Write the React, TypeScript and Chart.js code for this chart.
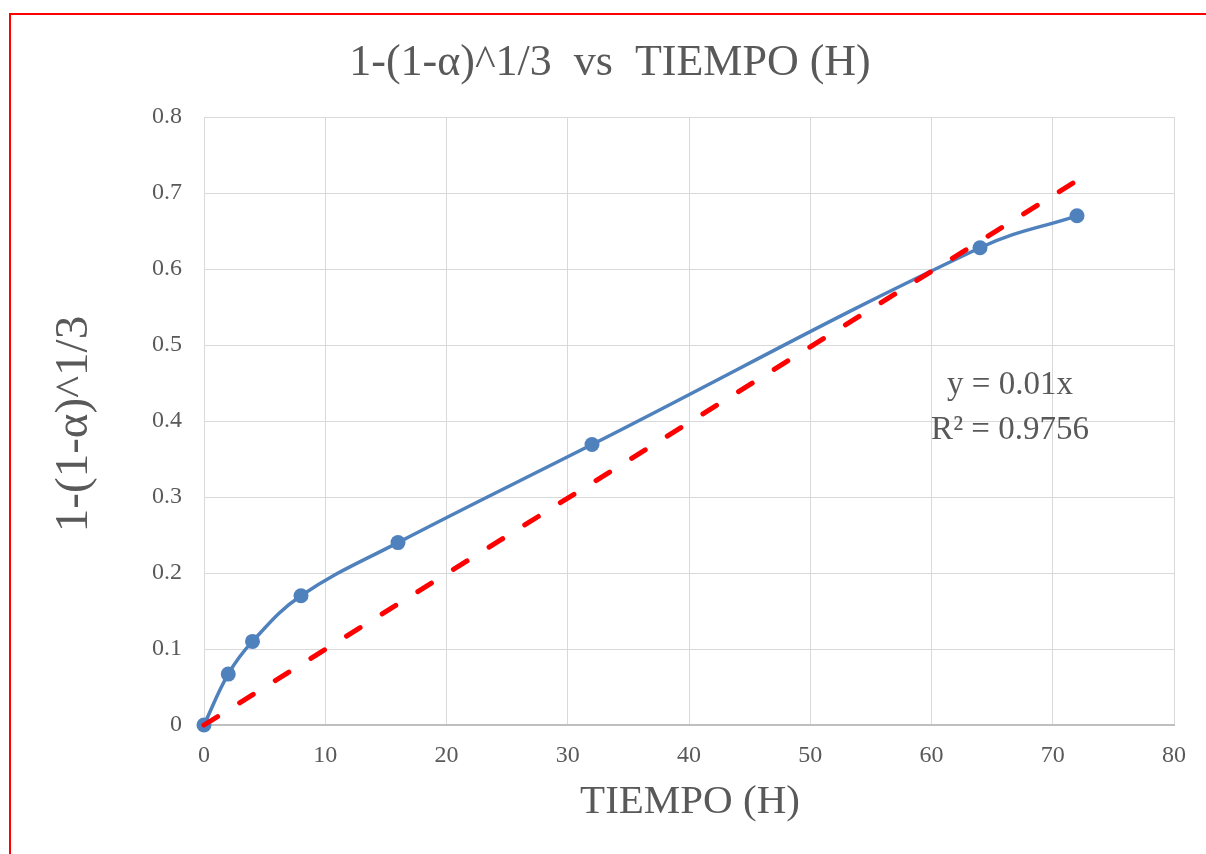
import React, { useEffect, useRef } from "react";
import { Chart, registerables } from "chart.js";

Chart.register(...registerables);

const tiempo = [0, 2, 4, 8, 16, 32, 64, 72];
const valores = [0, 0.067, 0.11, 0.17, 0.24, 0.369, 0.628, 0.67];
const trendX = [0, 72];
const trendSlope = 0.00995;
const titleText = "1-(1-α)^1/3  vs  TIEMPO (H)";
const xTitleText = "TIEMPO (H)";
const yTitleText = "1-(1-α)^1/3";
const trendLabel1 = "y = 0.01x";
const trendLabel2 = "R² = 0.9756";

const FONT = "'Liberation Serif', serif";
const TEXT = "#595959";

const decor = {
  id: "decor",
  beforeDraw(chart: any) {
    const ctx = chart.ctx;
    ctx.save();
    ctx.fillStyle = "#ffffff";
    ctx.fillRect(0, 0, chart.width, chart.height);
    ctx.strokeStyle = "#ff0000";
    ctx.lineWidth = 2;
    ctx.beginPath();
    ctx.moveTo(10, chart.height);
    ctx.lineTo(10, 14);
    ctx.lineTo(chart.width, 14);
    ctx.stroke();
    ctx.restore();
  },
  afterDraw(chart: any) {
    const ctx = chart.ctx;
    const a = chart.chartArea;
    ctx.save();
    ctx.fillStyle = TEXT;
    ctx.textAlign = "center";
    ctx.textBaseline = "middle";
    ctx.font = `44px ${FONT}`;
    ctx.fillText(titleText, 610, 63);
    ctx.font = `41px ${FONT}`;
    ctx.fillText(xTitleText, 690, 802);
    ctx.save();
    ctx.translate(75, 424);
    ctx.rotate(-Math.PI / 2);
    ctx.font = `47px ${FONT}`;
    ctx.fillText(yTitleText, 0, 0);
    ctx.restore();
    ctx.font = `33px ${FONT}`;
    ctx.fillText(trendLabel1, a.left + 806, 385);
    ctx.fillText(trendLabel2, a.left + 806, 430);
    ctx.restore();
  },
};

export default function App() {
  const ref = useRef<HTMLCanvasElement>(null);
  useEffect(() => {
    if (!ref.current) return;
    const chart = new Chart(ref.current, {
      type: "scatter",
      data: {
        datasets: [
          {
            label: "trend",
            data: trendX.map((x) => ({ x, y: x * trendSlope })),
            showLine: true,
            borderColor: "#ff0000",
            borderWidth: 5,
            borderDash: [16, 26],
            borderCapStyle: "round",
            pointRadius: 0,
            clip: false,
            order: 0,
          },
          {
            label: "data",
            data: tiempo.map((x, i) => ({ x, y: valores[i] })),
            showLine: true,
            borderColor: "#4f81bd",
            backgroundColor: "#4f81bd",
            borderWidth: 3.5,
            pointRadius: 7.5,
            pointBorderWidth: 0,
            tension: 0.4,
            clip: false,
            order: 1,
          },
        ],
      },
      options: {
        responsive: false,
        animation: false,
        layout: { padding: { left: 0, top: 117, right: 32, bottom: 0 } },
        plugins: { legend: { display: false }, tooltip: { enabled: false } },
        scales: {
          x: {
            type: "linear",
            min: 0,
            max: 80,
            ticks: { stepSize: 10, color: TEXT, font: { family: FONT, size: 24 }, padding: 16 },
            grid: { color: "#d9d9d9", lineWidth: 1, drawTicks: false },
            border: { color: "#bfbfbf", width: 2 },
            afterFit: (s: any) => {
              s.height = 129;
            },
          },
          y: {
            type: "linear",
            min: 0,
            max: 0.8,
            ticks: { stepSize: 0.1, color: TEXT, font: { family: FONT, size: 24 }, padding: 22 },
            grid: { color: "#d9d9d9", lineWidth: 1, drawTicks: false },
            border: { display: false },
            afterFit: (s: any) => {
              s.width = 204;
            },
          },
        },
      },
      plugins: [decor],
    });
    return () => chart.destroy();
  }, []);
  return (
    <div style={{ position: "absolute", left: 0, top: 0 }}>
      <canvas ref={ref} width={1206} height={854} style={{ width: 1206, height: 854, display: "block" }} />
    </div>
  );
}
